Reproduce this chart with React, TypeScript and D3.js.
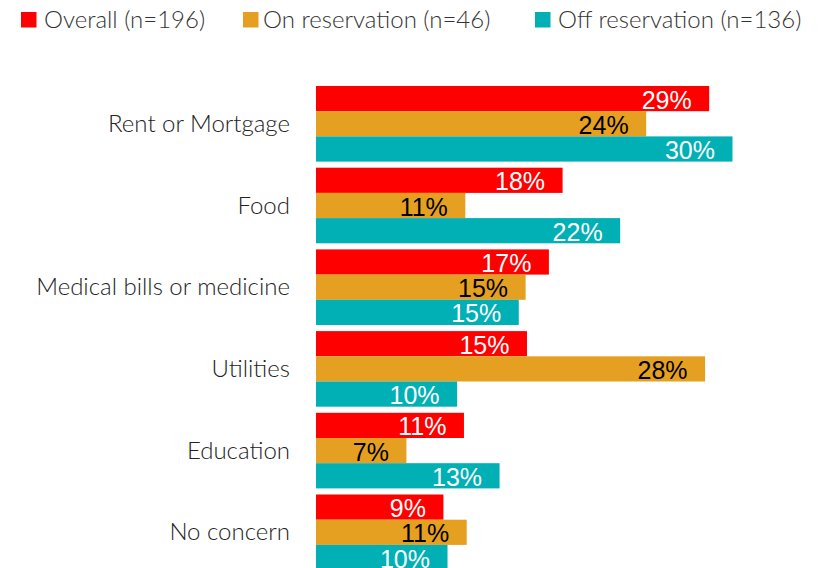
import React from "react";
import * as d3 from "d3";

const categories = [
  "Rent or Mortgage",
  "Food",
  "Medical bills or medicine",
  "Utilities",
  "Education",
  "No concern",
];
const seriesNames = ["Overall (n=196)", "On reservation (n=46)", "Off reservation (n=136)"];
const overall = [28.7, 18.0, 17.0, 15.4, 10.8, 9.3];
const onReservation = [24.1, 10.9, 15.3, 28.4, 6.6, 11.0];
const offReservation = [30.4, 22.2, 14.8, 10.3, 13.4, 9.6];

const seriesColors = ["#FF0000", "#E6A021", "#00B0B4"];
const labelColors = ["#FFFFFF", "#000000", "#FFFFFF"];

const W = 825;
const H = 568;
const X0 = 316;
const PX_PER_PCT = 13.7;
const legendX = [21, 243, 535];
const catFont = "'Lato', 'Open Sans', sans-serif";
const valFont = "'Liberation Sans', Arial, sans-serif";

export default function App() {
  const series = [overall, onReservation, offReservation];
  const x = d3.scaleLinear().domain([0, 30]).range([X0, X0 + 30 * PX_PER_PCT]);
  const step = 81.7;
  const y = d3
    .scaleBand<string>()
    .domain(categories)
    .range([86, 86 + categories.length * step - 6.1])
    .paddingInner(6.1 / step)
    .paddingOuter(0);
  const inner = d3
    .scaleBand<number>()
    .domain([0, 1, 2])
    .range([0, y.bandwidth()])
    .padding(0);

  return (
    <svg
      width={W}
      height={H}
      style={{ position: "fixed", left: 0, top: 0, background: "#fff" }}
    >
      {seriesNames.map((name, i) => (
        <g key={name}>
          <rect x={legendX[i]} y={12} width={15.5} height={15.5} fill={seriesColors[i]} />
          <text
            x={legendX[i] + (i === 1 ? 20 : 23)}
            y={28}
            fontFamily={catFont}
            fontWeight={300}
            fontSize={24}
            fill="#333"
          >
            {name}
          </text>
        </g>
      ))}
      {categories.map((c, ci) => {
        const gy = y(c) as number;
        return (
          <g key={c}>
            <text
              x={290}
              y={gy + y.bandwidth() / 2 + 8}
              textAnchor="end"
              fontFamily={catFont}
              fontWeight={300}
              fontSize={24}
              fill="#222"
            >
              {c}
            </text>
            {series.map((s, si) => {
              const by = gy + (inner(si) as number);
              const bh = inner.bandwidth();
              const xe = x(s[ci]);
              return (
                <g key={si}>
                  <rect x={x(0)} y={by} width={xe - x(0)} height={bh} fill={seriesColors[si]} />
                  <text
                    x={xe - 17.5}
                    y={by + bh / 2 + 10}
                    textAnchor="end"
                    fontFamily={valFont}
                    fontSize={25}
                    fill={labelColors[si]}
                  >
                    {Math.round(s[ci]) + "%"}
                  </text>
                </g>
              );
            })}
          </g>
        );
      })}
    </svg>
  );
}
